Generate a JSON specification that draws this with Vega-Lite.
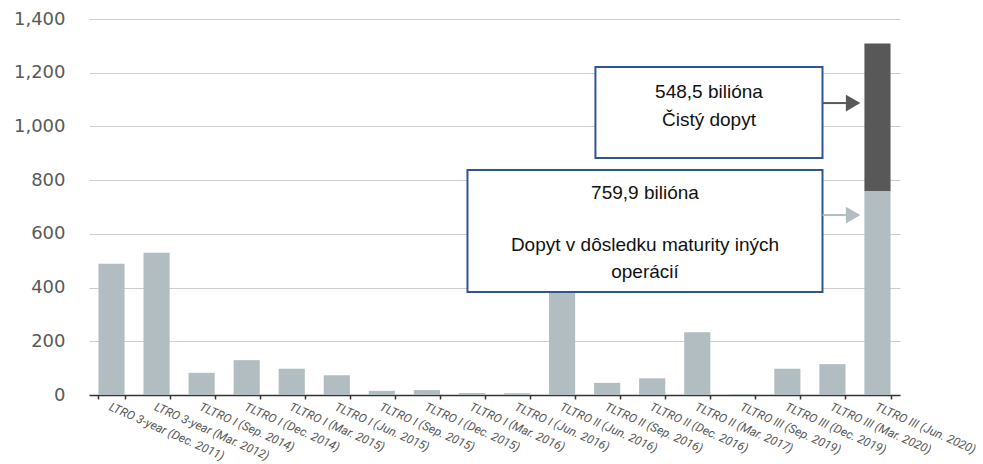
{
  "$schema": "https://vega.github.io/schema/vega-lite/v6.json",
  "width": 811,
  "height": 376,
  "autosize": {"type": "none"},
  "padding": {"left": 89, "top": 19, "right": 83, "bottom": 69},
  "background": "white",
  "config": {
    "view": {"stroke": null}
  },
  "datasets": {
    "bars": [
      {"op": "LTRO 3-year (Dec. 2011)", "part": "base", "ord": 1, "value": 489},
      {"op": "LTRO 3-year (Mar. 2012)", "part": "base", "ord": 1, "value": 529.5},
      {"op": "TLTRO I (Sep. 2014)", "part": "base", "ord": 1, "value": 82.6},
      {"op": "TLTRO I (Dec. 2014)", "part": "base", "ord": 1, "value": 129.8},
      {"op": "TLTRO I (Mar. 2015)", "part": "base", "ord": 1, "value": 97.8},
      {"op": "TLTRO I (Jun. 2015)", "part": "base", "ord": 1, "value": 73.8},
      {"op": "TLTRO I (Sep. 2015)", "part": "base", "ord": 1, "value": 15.5},
      {"op": "TLTRO I (Dec. 2015)", "part": "base", "ord": 1, "value": 18.3},
      {"op": "TLTRO I (Mar. 2016)", "part": "base", "ord": 1, "value": 7.3},
      {"op": "TLTRO I (Jun. 2016)", "part": "base", "ord": 1, "value": 6.7},
      {"op": "TLTRO II (Jun. 2016)", "part": "base", "ord": 1, "value": 399.3},
      {"op": "TLTRO II (Sep. 2016)", "part": "base", "ord": 1, "value": 45.3},
      {"op": "TLTRO II (Dec. 2016)", "part": "base", "ord": 1, "value": 62.2},
      {"op": "TLTRO II (Mar. 2017)", "part": "base", "ord": 1, "value": 233.5},
      {"op": "TLTRO III (Sep. 2019)", "part": "base", "ord": 1, "value": 3.4},
      {"op": "TLTRO III (Dec. 2019)", "part": "base", "ord": 1, "value": 97.7},
      {"op": "TLTRO III (Mar. 2020)", "part": "base", "ord": 1, "value": 115},
      {"op": "TLTRO III (Jun. 2020)", "part": "base", "ord": 1, "value": 759.9},
      {"op": "TLTRO III (Jun. 2020)", "part": "net", "ord": 2, "value": 548.5}
    ],
    "boxes": [
      {"x1": 11.24, "x2": 16.28, "y1": 1221, "y2": 882},
      {"x1": 8.4, "x2": 16.28, "y1": 838, "y2": 383.5}
    ],
    "texts": [
      {"x": 13.76, "y": 1128, "text": "548,5 bilióna"},
      {"x": 13.76, "y": 1024, "text": "Čistý dopyt"},
      {"x": 12.34, "y": 752, "text": "759,9 bilióna"},
      {"x": 12.34, "y": 558, "text": "Dopyt v dôsledku maturity iných"},
      {"x": 12.34, "y": 458, "text": "operácií"}
    ],
    "arrows": [
      {"x1": 16.28, "x2": 16.8, "xh": 16.96, "y": 1087, "part": "net"},
      {"x1": 16.28, "x2": 16.8, "xh": 16.96, "y": 670, "part": "base"}
    ]
  },
  "layer": [
    {
      "data": {"name": "bars"},
      "mark": {"type": "bar"},
      "encoding": {
        "x": {
          "field": "op",
          "type": "nominal",
          "sort": null,
          "scale": {"paddingInner": 0.42, "paddingOuter": 0.21},
          "axis": {
            "title": null,
            "domainColor": "#333333",
            "domainWidth": 1.5,
            "tickColor": "#333333",
            "tickSize": 4,
            "tickWidth": 1.5,
            "tickBand": "extent",
            "labelAngle": 24,
            "labelAlign": "left",
            "labelBaseline": "top",
            "labelFont": "Roboto",
            "labelFontStyle": "italic",
            "labelFontSize": 12,
            "labelColor": "#555555",
            "labelPadding": 2,
            "labelOverlap": false,
            "labelLimit": 400
          }
        },
        "y": {
          "field": "value",
          "type": "quantitative",
          "stack": "zero",
          "scale": {"domain": [0, 1400], "nice": false},
          "axis": {
            "title": null,
            "grid": true,
            "gridColor": "#cccccc",
            "gridWidth": 1,
            "domain": false,
            "ticks": false,
            "labelFont": "DejaVu Sans",
            "labelFontSize": 18,
            "labelColor": "#595959",
            "labelPadding": 24,
            "values": [0, 200, 400, 600, 800, 1000, 1200, 1400],
            "format": ",d"
          }
        },
        "color": {
          "field": "part",
          "type": "nominal",
          "scale": {"domain": ["base", "net"], "range": ["#b1bdc1", "#585858"]},
          "legend": null
        },
        "order": {"field": "ord", "type": "quantitative"}
      }
    },
    {
      "data": {"name": "boxes"},
      "mark": {"type": "rect", "fill": "white", "stroke": "#2f5597", "strokeWidth": 2},
      "encoding": {
        "x": {"field": "x1", "type": "quantitative", "scale": {"domain": [0, 18], "nice": false}, "axis": null},
        "x2": {"field": "x2"},
        "y": {"field": "y1", "type": "quantitative"},
        "y2": {"field": "y2"}
      }
    },
    {
      "data": {"name": "texts"},
      "mark": {"type": "text", "font": "Liberation Sans", "fontSize": 19, "color": "#111111", "align": "center", "baseline": "middle"},
      "encoding": {
        "x": {"field": "x", "type": "quantitative", "scale": {"domain": [0, 18], "nice": false}, "axis": null},
        "y": {"field": "y", "type": "quantitative"},
        "text": {"field": "text"}
      }
    },
    {
      "data": {"name": "arrows"},
      "mark": {"type": "rule", "strokeWidth": 2},
      "encoding": {
        "x": {"field": "x1", "type": "quantitative", "scale": {"domain": [0, 18], "nice": false}, "axis": null},
        "x2": {"field": "x2"},
        "y": {"field": "y", "type": "quantitative"},
        "color": {"field": "part", "type": "nominal", "legend": null}
      }
    },
    {
      "data": {"name": "arrows"},
      "mark": {"type": "point", "shape": "triangle-right", "filled": true, "size": 280, "opacity": 1},
      "encoding": {
        "x": {"field": "xh", "type": "quantitative", "scale": {"domain": [0, 18], "nice": false}, "axis": null},
        "y": {"field": "y", "type": "quantitative"},
        "color": {"field": "part", "type": "nominal", "legend": null}
      }
    }
  ],
  "resolve": {"scale": {"x": "independent"}}
}
